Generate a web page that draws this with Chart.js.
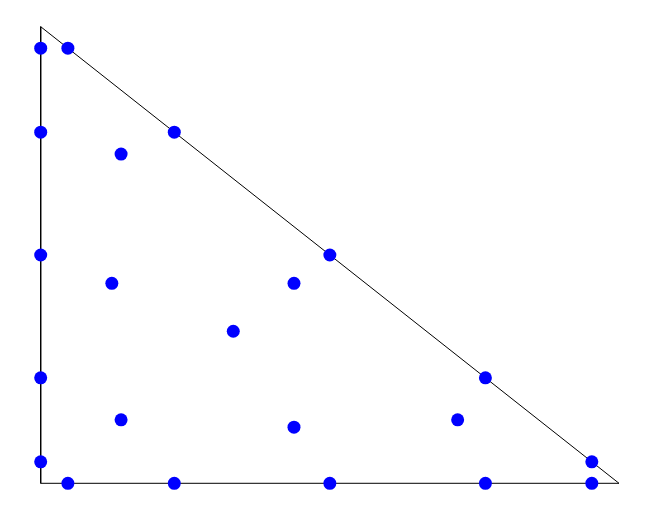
<!DOCTYPE html>
<html>
<head>
<meta charset="utf-8">
<script src="https://cdn.jsdelivr.net/npm/chart.js@4"></script>
<style>
html,body{margin:0;padding:0;background:#fff;}
#wrap{width:655px;height:510px;position:relative;}
</style>
</head>
<body>
<div id="wrap"><canvas id="c"></canvas></div>
<script>
// Node coordinates
const pointX = [0, 0.047, 0, 0.231, 0.139, 0, 0.5, 0.123, 0.438, 0.333, 0, 0.769, 0.139, 0.438, 0.721, 0, 0.953, 0.047, 0.231, 0.5, 0.769, 0.953];
const pointY = [0.953, 0.953, 0.769, 0.769, 0.721, 0.5, 0.5, 0.438, 0.438, 0.333, 0.231, 0.231, 0.139, 0.123, 0.139, 0.047, 0.047, 0, 0, 0, 0, 0];
// Triangle outline vertices
const triX = [0, 0, 1, 0];
const triY = [1, 0, 0, 1];

const pts = pointX.map((x, i) => ({x: x, y: pointY[i]}));
const tri = triX.map((x, i) => ({x: x, y: triY[i]}));

new Chart(document.getElementById('c'), {
  type: 'scatter',
  data: {
    datasets: [
      {
        data: pts,
        backgroundColor: '#0000ff',
        borderColor: '#0000ff',
        pointRadius: 6.5,
        pointBorderWidth: 0,
        showLine: false,
        clip: false,
        order: 0
      },
      {
        data: tri,
        showLine: true,
        borderColor: '#000000',
        borderWidth: 1,
        pointRadius: 0,
        fill: false,
        tension: 0,
        clip: false,
        order: 1
      }
    ]
  },
  options: {
    responsive: true,
    maintainAspectRatio: false,
    animation: false,
    layout: {padding: {left: 40.7, right: 36, top: 26.7, bottom: 26.7}},
    plugins: {legend: {display: false}, tooltip: {enabled: false}},
    scales: {
      x: {type: 'linear', min: 0, max: 1, display: false},
      y: {type: 'linear', min: 0, max: 1, display: false}
    }
  }
});
</script>
</body>
</html>
